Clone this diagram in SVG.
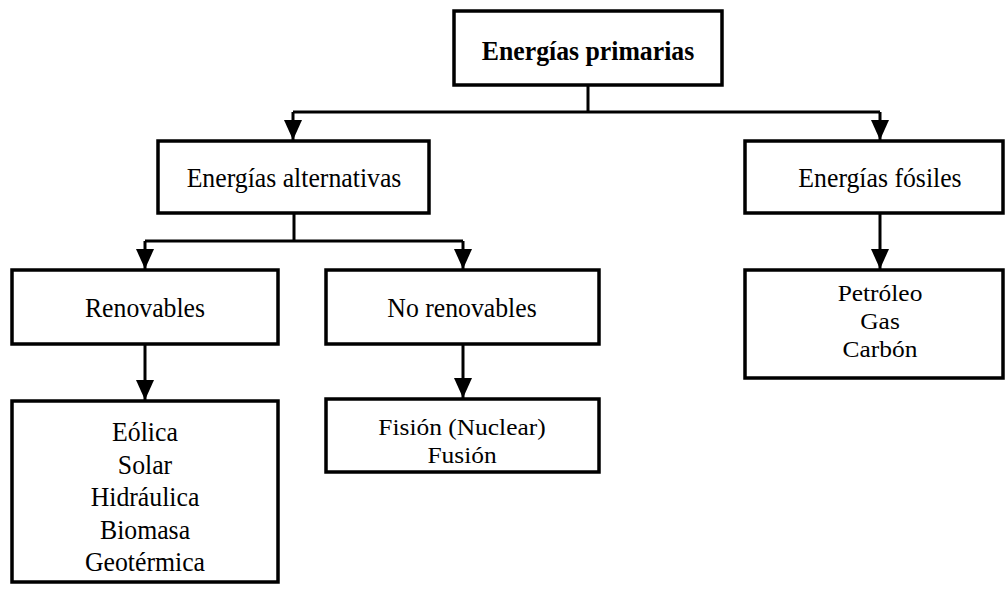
<svg xmlns="http://www.w3.org/2000/svg" width="1006" height="593" viewBox="0 0 1006 593">
  <style>
    .box { fill: #fff; stroke: #000; stroke-width: 3.5; }
    .lbl { font-family: "Liberation Serif", "Times New Roman", "DejaVu Serif", serif; font-size: 28px; fill: #000; text-anchor: middle; }
    .tight { font-size: 24px; }
    .bold { font-weight: bold; }
    .wire { fill: none; stroke: #000; stroke-width: 3; }
  </style>
  <defs>
    <marker id="arrow" viewBox="0 0 20 18" refX="20" refY="9" markerWidth="20" markerHeight="18" markerUnits="userSpaceOnUse" orient="auto">
      <path d="M0,0 L20,9 L0,18 Z" fill="#000"/>
    </marker>
  </defs>

  <g id="connectors">
    <path class="wire" d="M588,85 V112 M293,112 H880"/>
    <path class="wire" d="M293,112 V140" marker-end="url(#arrow)"/>
    <path class="wire" d="M880,112 V140" marker-end="url(#arrow)"/>
    <path class="wire" d="M294,213 V241 M145,241 H463"/>
    <path class="wire" d="M145,241 V269" marker-end="url(#arrow)"/>
    <path class="wire" d="M463,241 V269" marker-end="url(#arrow)"/>
    <path class="wire" d="M145,344 V400" marker-end="url(#arrow)"/>
    <path class="wire" d="M463,344 V398" marker-end="url(#arrow)"/>
    <path class="wire" d="M880,213 V269" marker-end="url(#arrow)"/>
  </g>

  <g id="primarias">
    <rect class="box" x="454" y="11" width="268" height="74"/>
    <text class="lbl bold" transform="translate(588,60) scale(0.92,1)">Energías primarias</text>
  </g>

  <g id="alternativas">
    <rect class="box" x="158" y="141" width="271" height="72"/>
    <text class="lbl" transform="translate(294,187) scale(0.92,1)">Energías alternativas</text>
  </g>

  <g id="fosiles">
    <rect class="box" x="745" y="141" width="258" height="72"/>
    <text class="lbl" transform="translate(880,187) scale(0.92,1)">Energías fósiles</text>
  </g>

  <g id="renovables">
    <rect class="box" x="12" y="270" width="266" height="74"/>
    <text class="lbl" transform="translate(145,317) scale(0.92,1)">Renovables</text>
  </g>

  <g id="no-renovables">
    <rect class="box" x="326" y="270" width="273" height="74"/>
    <text class="lbl" transform="translate(462,317) scale(0.92,1)">No renovables</text>
  </g>

  <g id="lista-renovables">
    <rect class="box" x="12" y="401" width="266" height="181"/>
    <text class="lbl" transform="translate(145,441) scale(0.92,1)">Eólica</text>
    <text class="lbl" transform="translate(145,473.5) scale(0.92,1)">Solar</text>
    <text class="lbl" transform="translate(145,506) scale(0.92,1)">Hidráulica</text>
    <text class="lbl" transform="translate(145,538.5) scale(0.92,1)">Biomasa</text>
    <text class="lbl" transform="translate(145,571) scale(0.92,1)">Geotérmica</text>
  </g>

  <g id="lista-no-renovables">
    <rect class="box" x="326" y="399" width="273" height="73"/>
    <text class="lbl tight" transform="translate(462,435) scale(1.06,1)">Fisión (Nuclear)</text>
    <text class="lbl tight" transform="translate(462,463) scale(1.06,1)">Fusión</text>
  </g>

  <g id="lista-fosiles">
    <rect class="box" x="745" y="270" width="258" height="108"/>
    <text class="lbl tight" transform="translate(880,301) scale(1.06,1)">Petróleo</text>
    <text class="lbl tight" transform="translate(880,329) scale(1.06,1)">Gas</text>
    <text class="lbl tight" transform="translate(880,357) scale(1.06,1)">Carbón</text>
  </g>
</svg>
